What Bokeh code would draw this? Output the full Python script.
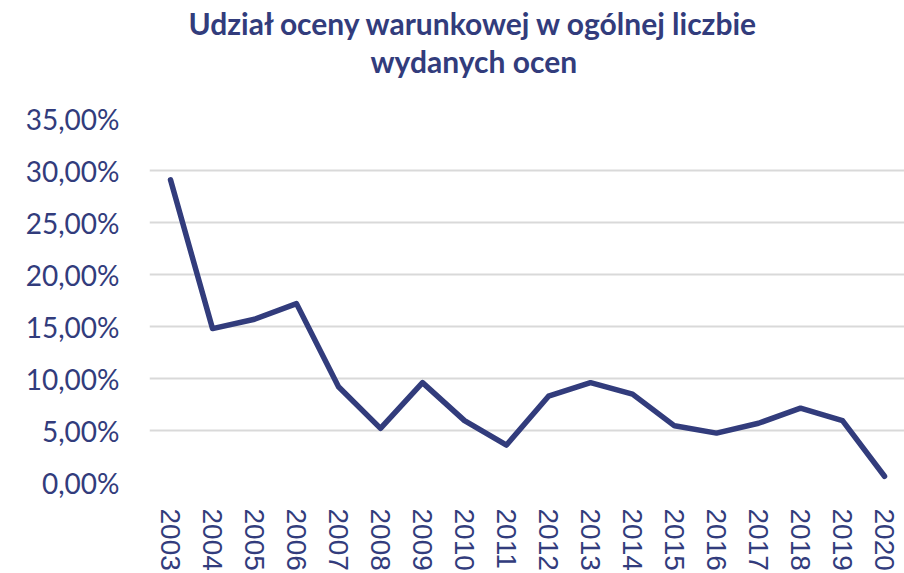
from bokeh.plotting import figure
from bokeh.models import Range1d, FixedTicker, Title
from bokeh.embed import file_html
from bokeh.resources import INLINE

years = ["2003", "2004", "2005", "2006", "2007", "2008", "2009", "2010", "2011",
         "2012", "2013", "2014", "2015", "2016", "2017", "2018", "2019", "2020"]
share_pct = [29.1, 14.8, 15.7, 17.2, 9.2, 5.2, 9.6, 5.95, 3.6,
             8.3, 9.6, 8.5, 5.45, 4.75, 5.7, 7.15, 5.95, 0.6]
y_ticks = [0, 5, 10, 15, 20, 25, 30, 35]
title_lines = ["Udział oceny warunkowej w ogólnej liczbie", "wydanych ocen"]

NAVY = "#323C7C"
W, H = 904, 573

p = figure(width=W, height=H, output_backend="svg", toolbar_location=None,
           x_range=Range1d(-0.5, 17.476), y_range=Range1d(0, 35),
           min_border_left=149, min_border_right=0, min_border_top=118,
           min_border_bottom=85)
p.outline_line_color = None
p.background_fill_color = "white"
p.border_fill_color = "white"

idx = list(range(len(years)))
p.line(idx, share_pct, line_color=NAVY, line_width=5.5, line_join="round", line_cap="round")

# x axis
p.xaxis.ticker = FixedTicker(ticks=idx)
p.xaxis.major_label_overrides = {i: y for i, y in zip(idx, years)}
p.xaxis.major_label_orientation = "vertical"
p.xaxis.major_label_text_font = "Liberation Sans"
p.xaxis.major_label_text_font_size = "28px"
p.xaxis.major_label_text_color = NAVY
p.xaxis.axis_line_color = None
p.xaxis.major_tick_line_color = None
p.xaxis.minor_tick_line_color = None
p.xaxis.major_label_standoff = 20
p.xgrid.grid_line_color = None

# y axis
p.yaxis.ticker = FixedTicker(ticks=y_ticks)
p.yaxis.major_label_overrides = {t: f"{t:.2f}".replace(".", ",") + "%" for t in y_ticks}
p.yaxis.major_label_text_font = "Lato"
p.yaxis.major_label_text_font_size = "28px"
p.yaxis.major_label_text_color = NAVY
p.yaxis.axis_line_color = None
p.yaxis.major_tick_line_color = None
p.yaxis.minor_tick_line_color = None
p.yaxis.major_label_standoff = 24
p.ygrid.grid_line_color = "#D9D9D9"
p.ygrid.grid_line_width = 2

# title: two lines; the first one added sits closest to the plot
for txt, standoff, offset, pad_b in ((title_lines[1], 0, 221, 40), (title_lines[0], 0, 39, 0)):
    p.add_layout(Title(text=txt, align="left", offset=offset, standoff=standoff,
                       padding=dict(left=0, right=0, top=0, bottom=pad_b),
                       text_font="Lato", text_font_style="bold", text_font_size="30px",
                       text_color=NAVY), "above")

open("out.html", "w").write(file_html(p, INLINE))
